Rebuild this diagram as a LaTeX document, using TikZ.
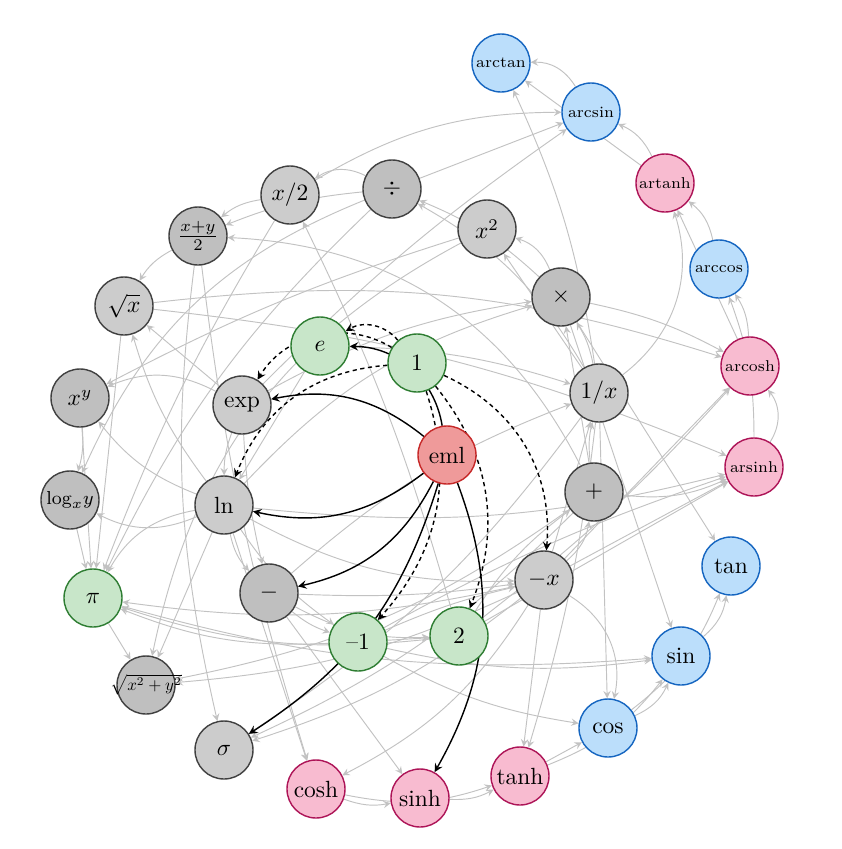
\documentclass[tikz,border=0pt]{standalone}
\usepackage{amssymb}
\usepackage{amsmath}
\usepackage{tikz}
\usetikzlibrary{shapes,arrows,backgrounds}

\definecolor{fnfill}{HTML}{CCCCCC}
\definecolor{binfill}{HTML}{BFBFBF}
\definecolor{cstfill}{HTML}{C8E6C9}
\definecolor{cstline}{HTML}{2E7D32}
\definecolor{trigfill}{HTML}{BBDEFB}
\definecolor{trigline}{HTML}{1565C0}
\definecolor{hypfill}{HTML}{F8BBD0}
\definecolor{hypline}{HTML}{AD1457}
\definecolor{rootfill}{HTML}{EF9A9A}
\definecolor{rootline}{HTML}{C62828}
\definecolor{linkgray}{HTML}{C2C2C2}

\begin{document}
\begin{tikzpicture}[x=0.015cm, y=-0.015cm, >=stealth,
    ball/.style={draw, circle, minimum size=0.87cm, inner sep=0pt, line width=0.6pt},
    fn/.style={ball, fill=fnfill, draw=black!75},
    bin/.style={ball, fill=binfill, draw=black!75},
    cst/.style={ball, fill=cstfill, draw=cstline},
    trig/.style={ball, fill=trigfill, draw=trigline},
    hyp/.style={ball, fill=hypfill, draw=hypline},
    root/.style={ball, fill=rootfill, draw=rootline},
    tinyfont/.style={font=\fontsize{6.7}{8}\selectfont},
    link/.style={->, draw=linkgray, line width=0.4pt},
    blk/.style={->, black, line width=0.6pt},
    dsh/.style={->, black, line width=0.6pt, dash pattern=on 1.8pt off 1.5pt}]
    \useasboundingbox (0, 0) rectangle (842, 849);

    % outer ring
    \node[trig, tinyfont] (arctan) at (501, 63) {arctan};
    \node[trig, tinyfont] (arcsin) at (591, 112) {arcsin};
    \node[hyp, tinyfont] (artanh) at (665, 183) {artanh};
    \node[trig, tinyfont] (arccos) at (719, 269) {arccos};
    \node[hyp, tinyfont] (arcosh) at (750, 366) {arcosh};
    \node[hyp, tinyfont] (arsinh) at (754, 467) {arsinh};
    \node[trig] (tan) at (731, 566) {tan};
    \node[trig] (sin) at (681, 656) {sin};
    \node[trig] (cos) at (608, 728) {cos};
    \node[hyp] (tanh) at (520, 776) {tanh};
    \node[hyp] (sinh) at (420, 798) {sinh};
    \node[hyp] (cosh) at (316, 789) {cosh};
    \node[fn] (sigma) at (224, 750) {$\sigma$};
    \node[bin] (hypot) at (146, 685) {\makebox[0pt]{\scalebox{0.72}{$\sqrt{x^2+y^2}$}}};
    \node[cst] (pi) at (93, 598) {$\pi$};
    \node[bin] (logxy) at (70, 500) {\footnotesize $\log_x\! y$};
    \node[bin] (xpowy) at (80, 398) {$x^y$};
    \node[fn] (sqrtx) at (124, 306) {$\sqrt{x}$};
    \node[bin] (avg) at (198, 236) {$\frac{x+y}{2}$};
    \node[fn] (half) at (290, 195) {$x/2$};
    \node[bin] (div) at (392, 189) {$\div$};
    \node[fn] (sq) at (487, 229) {$x^2$};
    \node[bin] (mul) at (561, 297) {$\times$};
    \node[fn] (inv) at (599, 393) {$1/x$};
    \node[bin] (add) at (594, 492) {$+$};
    \node[fn] (neg) at (544, 580) {$-x$};
    % inner ring
    \node[cst] (two) at (459, 636) {2};
    \node[cst] (mone) at (358, 642) {--1};
    \node[bin] (sub) at (269, 593) {$-$};
    \node[fn] (ln) at (224, 505) {ln};
    \node[fn] (exp) at (242, 405) {exp};
    \node[cst] (e) at (320, 346) {$e$};
    \node[cst] (one) at (417, 363) {1};
    \node[root] (eml) at (447, 455) {eml};

    \begin{scope}[on background layer]
    % derived
    \draw[link] (arcsin) to[bend right=30] (arctan);
    \draw[link] (artanh) -- (arctan);
    \draw[link] (inv) to[bend right=8] (arctan);
    \draw[link] (half) to[bend left=15] (arcsin);
    \draw[link] (div) -- (arcsin);
    \draw[link] (exp) to[bend left=5] (arcsin);
    \draw[link] (artanh) to[bend right=20] (arcsin);
    \draw[link] (inv) to[bend right=35] (artanh);
    \draw[link] (arccos) to[bend right=20] (artanh);
    \draw[link] (arcosh) -- (artanh);
    \draw[link] (arcosh) to[bend right=15] (arccos);
    \draw[link] (arsinh) to[bend right=10] (arccos);
    \draw[link] (arsinh) to[bend right=35] (arcosh);
    \draw[link] (mul) to[bend left=8] (arcosh);
    \draw[link] (neg) -- (arcosh);
    \draw[link] (two) to[bend right=5] (arcosh);
    \draw[link] (sqrtx) to[bend left=12] (arcosh);
    \draw[link] (add) to[bend right=15] (arsinh);
    \draw[link] (neg) -- (arsinh);
    \draw[link] (two) -- (arsinh);
    \draw[link] (mone) to[bend left=5] (arsinh);
    \draw[link] (ln) to[bend right=10] (arsinh);
    \draw[link] (sqrtx) to[bend left=8] (arsinh);
    \draw[link] (mul) -- (tan);
    \draw[link] (sin) to[bend right=20] (tan);
    \draw[link] (cos) to[bend right=15] (tan);
    \draw[link] (mul) -- (sin);
    \draw[link] (cos) to[bend right=20] (sin);
    \draw[link] (tanh) to[bend right=15] (sin);
    \draw[link] (mone) to[bend right=10] (sin);
    \draw[link] (pi) to[bend right=10] (sin);
    \draw[link] (neg) to[bend left=35] (cos);
    \draw[link] (inv) -- (cos);
    \draw[link] (tanh) -- (cos);
    \draw[link] (mone) to[bend right=10] (cos);
    \draw[link] (neg) -- (tanh);
    \draw[link] (inv) to[bend left=5] (tanh);
    \draw[link] (sinh) to[bend right=15] (tanh);
    \draw[link] (cosh) to[bend right=15] (tanh);
    \draw[link] (cosh) to[bend right=15] (sinh);
    \draw[link] (sub) -- (sinh);
    \draw[link] (ln) -- (cosh);
    \draw[link] (avg) to[bend right=5] (cosh);
    \draw[link] (neg) to[bend left=15] (cosh);
    \draw[link] (avg) to[bend right=10] (sigma);
    \draw[link] (neg) to[bend left=10] (sigma);
    \draw[link] (add) to[bend left=10] (sigma);
    \draw[link] (inv) to[bend left=10] (sigma);
    \draw[link] (pi) -- (hypot);
    \draw[link] (ln) -- (hypot);
    \draw[link] (add) to[bend left=12] (hypot);
    \draw[link] (neg) to[bend left=10] (hypot);
    \draw[link] (sq) to[bend right=25] (hypot);
    \draw[link] (logxy) -- (pi);
    \draw[link] (xpowy) -- (pi);
    \draw[link] (sqrtx) -- (pi);
    \draw[link] (half) to[bend right=5] (pi);
    \draw[link] (div) to[bend right=10] (pi);
    \draw[link] (ln) to[bend right=25] (pi);
    \draw[link] (mone) to[bend left=12] (pi);
    \draw[link] (two) to[bend left=12] (pi);
    \draw[link] (neg) to[bend left=10] (pi);
    \draw[link] (xpowy) to[bend left=10] (logxy);
    \draw[link] (ln) to[bend left=25] (logxy);
    \draw[link] (div) to[bend right=22] (logxy);
    \draw[link] (exp) to[bend right=25] (xpowy);
    \draw[link] (ln) to[bend left=15] (xpowy);
    \draw[link] (sq) to[bend right=5] (xpowy);
    \draw[link] (avg) to[bend right=15] (sqrtx);
    \draw[link] (exp) -- (sqrtx);
    \draw[link] (ln) to[bend left=10] (sqrtx);
    \draw[link] (half) to[bend right=15] (avg);
    \draw[link] (div) to[bend right=8] (avg);
    \draw[link] (add) to[bend right=30] (avg);
    \draw[link] (div) to[bend right=30] (half);
    \draw[link] (two) to[bend right=5] (half);
    \draw[link] (mul) to[bend right=10] (div);
    \draw[link] (inv) to[bend right=15] (div);
    \draw[link] (mul) to[bend right=25] (sq);
    \draw[link] (inv) -- (sq);
    \draw[link] (inv) to[bend right=10] (mul);
    \draw[link] (add) -- (mul);
    \draw[link] (exp) to[bend left=10] (mul);
    \draw[link] (ln) to[bend left=15] (mul);
    \draw[link] (e) to[bend left=8] (inv);
    \draw[link] (sub) to[bend left=10] (inv);
    \draw[link] (add) to[bend left=10] (inv);
    \draw[link] (neg) -- (inv);
    \draw[link] (neg) to[bend right=20] (add);
    \draw[link] (two) to[bend left=10] (add);
    \draw[link] (sub) to[bend right=5] (neg);
    \draw[link] (mone) to[bend left=5] (neg);
    \draw[link] (ln) to[bend right=15] (neg);
    \draw[link] (mone) -- (two);
    \draw[link] (sub) to[bend right=15] (two);
    \draw[link] (sub) to[bend right=10] (mone);
    \draw[link] (ln) to[bend right=10] (mone);
    \draw[link] (ln) to[bend right=15] (sub);
    \draw[link] (exp) to[bend right=5] (sub);
    \draw[link] (exp) to[bend right=10] (ln);
    \draw[link] (e) -- (ln);
    % from eml
    \draw[blk] (eml) to[bend right=40] (e);
    \draw[blk] (eml) to[bend right=25] (exp);
    \draw[blk] (eml) to[bend left=25] (ln);
    \draw[blk] (eml) to[bend left=25] (sub);
    \draw[blk] (eml) to[bend left=20] (sigma);
    \draw[blk] (eml) to[bend left=25] (sinh);
    % from 1
    \draw[dsh] (one) to[bend right=40] (e);
    \draw[dsh] (one) to[bend right=45] (exp);
    \draw[dsh] (one) to[bend right=32] (ln);
    \draw[dsh] (one) to[bend left=35] (neg);
    \draw[dsh] (one) to[bend left=30] (mone);
    \draw[dsh] (one) to[bend left=30] (two);
    \end{scope}
\end{tikzpicture}
\end{document}
